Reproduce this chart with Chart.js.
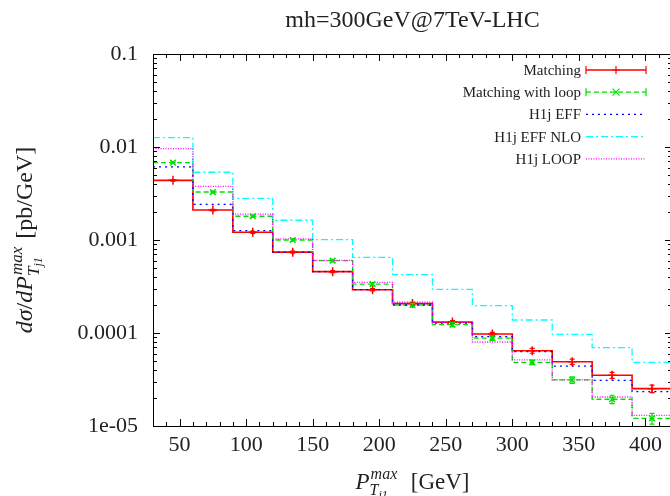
<!DOCTYPE html>
<html>
<head>
<meta charset="utf-8">
<script src="https://cdn.jsdelivr.net/npm/chart.js@4/dist/chart.umd.min.js"></script>
<style>
  body { margin: 0; overflow: hidden; background: #fff; }
  canvas { display: block; }
</style>
</head>
<body>
<canvas id="ptChart" width="680" height="496"></canvas>
<script>
// Bins em P_T^max do jato mais duro (GeV)
var binEdges = [30, 60, 90, 120, 150, 180, 210, 240, 270, 300, 330, 360, 390, 420]
var binCenters = [45, 75, 105, 135, 165, 195, 225, 255, 285, 315, 345, 375, 405]

// dsigma/dP_T^max [pb/GeV]
var matching = [0.00438, 0.0021, 0.00121, 0.00074, 0.000457, 0.000292, 0.000207, 0.000131, 0.0000975, 0.0000645, 0.0000491, 0.0000351, 0.0000252]
var matchingErr = [0.00008, 0.00004, 0.00003, 0.00002, 0.000012, 0.000009, 0.000007, 0.000005, 0.000004, 0.0000039, 0.0000032, 0.0000026, 0.0000023]
var matchingLoop = [0.00678, 0.00328, 0.0018, 0.001, 0.0006, 0.000336, 0.0002, 0.000123, 0.0000883, 0.0000484, 0.0000313, 0.0000194, 0.0000121]
var matchingLoopErr = [0.0001, 0.00006, 0.00004, 0.00003, 0.00002, 0.000012, 0.000008, 0.000006, 0.000005, 0.0000028, 0.0000025, 0.000002, 0.0000016]
var h1jEff = [0.0061, 0.00242, 0.00126, 0.00074, 0.000457, 0.000292, 0.0002, 0.000128, 0.0000912, 0.0000631, 0.0000441, 0.000031, 0.0000234]
var h1jEffNlo = [0.0126, 0.00535, 0.0028, 0.00163, 0.00101, 0.00065, 0.000424, 0.000295, 0.000197, 0.000138, 0.0000968, 0.0000695, 0.0000484]
var h1jLoop = [0.0096, 0.00378, 0.0019, 0.00103, 0.000605, 0.00035, 0.000214, 0.00013, 0.00008, 0.0000513, 0.0000313, 0.0000205, 0.000013]

var seriesNames = ['Matching', 'Matching with loop', 'H1j EFF', 'H1j EFF NLO', 'H1j LOOP']
var xTicks = [50, 100, 150, 200, 250, 300, 350, 400]
var yTicks = [0.00001, 0.0001, 0.001, 0.01, 0.1]
var yTickLabels = ['1e-05', '0.0001', '0.001', '0.01', '0.1']
var titleText = 'mh=300GeV@7TeV-LHC'

var FONT = '"Liberation Serif", "DejaVu Serif", serif'
var styles = [
  { color: '#ff0000', dash: [] },
  { color: '#00e000', dash: [5, 3] },
  { color: '#0000ff', dash: [2, 4] },
  { color: '#00ffff', dash: [7, 3, 2, 3] },
  { color: '#ff00ff', dash: [1, 1.5] }
]

// histograma em degraus: um ponto por borda de bin
function steps(vals){
  return binEdges.map((x, i) => ({ x: x, y: vals[Math.min(i, vals.length - 1)] }))
}
function centers(vals, errs){
  return binCenters.map((x, i) => ({ x: x, y: vals[i], err: errs[i] }))
}

function stepSet(i, vals){
  return {
    label: seriesNames[i],
    data: steps(vals),
    stepped: 'before',
    borderColor: styles[i].color,
    borderDash: styles[i].dash,
    borderWidth: i == 0 ? 1.6 : 1.3,
    pointRadius: 0,
    fill: false,
    order: 10 - i
  }
}

function drawMarker(ctx, kind, x, y, r){
  ctx.beginPath()
  if (kind == 'plus'){
    ctx.moveTo(x - r, y); ctx.lineTo(x + r, y)
    ctx.moveTo(x, y - r); ctx.lineTo(x, y + r)
  } else {
    ctx.moveTo(x - r, y - r); ctx.lineTo(x + r, y + r)
    ctx.moveTo(x - r, y + r); ctx.lineTo(x + r, y - r)
  }
  ctx.stroke()
}

// texto com expoente/índice empilhados (P^max_Tj1)
function mathText(ctx, runs, size, x0, y0, draw){
  var x = x0
  runs.forEach((r) => {
    if (r.t !== undefined){
      ctx.font = (r.i ? 'italic ' : '') + size + 'px ' + FONT
      if (draw) ctx.fillText(r.t, x, y0)
      x += ctx.measureText(r.t).width
    } else {
      ctx.font = 'italic ' + Math.round(size * 0.7) + 'px ' + FONT
      var wSup = ctx.measureText(r.sup).width
      var wSub = ctx.measureText(r.sub).width
      if (draw){
        ctx.fillText(r.sup, x + 1, y0 - size * 0.42)
        ctx.fillText(r.sub, x, y0 + size * 0.28)
      }
      ctx.font = 'italic ' + Math.round(size * 0.5) + 'px ' + FONT
      var wSS = ctx.measureText(r.subsub).width
      if (draw) ctx.fillText(r.subsub, x + wSub, y0 + size * 0.42)
      x += Math.max(wSup + 1, wSub + wSS) + 2
    }
  })
  return x - x0
}

var yTitleRuns = [
  { t: 'd\u03c3', i: true }, { t: '/' }, { t: 'dP', i: true },
  { sup: 'max', sub: 'T', subsub: 'j1' }, { t: ' [pb/GeV]' }
]
var xTitleRuns = [
  { t: 'P', i: true }, { sup: 'max', sub: 'T', subsub: 'j1' }, { t: '  [GeV]' }
]

var decorations = {
  id: 'decorations',
  afterDatasetsDraw(chart){
    var ctx = chart.ctx
    var xs = chart.scales.x, ys = chart.scales.y
    ctx.save()
    // barras de erro
    chart.data.datasets.forEach((ds) => {
      if (!ds.errorBars) return
      ctx.strokeStyle = ds.borderColor
      ctx.lineWidth = 1.2
      ctx.setLineDash([])
      ds.data.forEach((p) => {
        var px = xs.getPixelForValue(p.x)
        var y1 = ys.getPixelForValue(p.y - p.err)
        var y2 = ys.getPixelForValue(p.y + p.err)
        ctx.beginPath()
        ctx.moveTo(px, y1); ctx.lineTo(px, y2)
        ctx.moveTo(px - 2.5, y1); ctx.lineTo(px + 2.5, y1)
        ctx.moveTo(px - 2.5, y2); ctx.lineTo(px + 2.5, y2)
        ctx.stroke()
      })
    })
    ctx.restore()
  },
  afterDraw(chart){
    var ctx = chart.ctx
    var a = chart.chartArea
    var xs = chart.scales.x, ys = chart.scales.y
    ctx.save()
    ctx.setLineDash([])
    ctx.strokeStyle = '#000'
    ctx.lineWidth = 1
    ctx.strokeRect(a.left + 0.5, a.top + 0.5, a.right - a.left, a.bottom - a.top)

    // marcas nos quatro lados, para dentro
    ctx.beginPath()
    for (var v = 30; v <= 420; v += 10){
      var len = (v % 50 == 0) ? 7 : 4
      var px = Math.round(xs.getPixelForValue(v)) + 0.5
      ctx.moveTo(px, a.bottom); ctx.lineTo(px, a.bottom - len)
      ctx.moveTo(px, a.top); ctx.lineTo(px, a.top + len)
    }
    for (var e = -5; e < -1; e++){
      for (var m = 1; m <= 10; m++){
        var val = m * Math.pow(10, e)
        var l2 = (m == 1 || m == 10) ? 7 : 4
        var py = Math.round(ys.getPixelForValue(val)) + 0.5
        ctx.moveTo(a.left, py); ctx.lineTo(a.left + l2, py)
        ctx.moveTo(a.right, py); ctx.lineTo(a.right - l2, py)
      }
    }
    ctx.stroke()

    // título
    ctx.fillStyle = '#222'
    ctx.font = '24px ' + FONT
    ctx.textAlign = 'center'
    ctx.textBaseline = 'alphabetic'
    ctx.fillText(titleText, (a.left + a.right) / 2, 27)

    // títulos dos eixos
    ctx.textAlign = 'left'
    ctx.textBaseline = 'alphabetic'
    var w = mathText(ctx, xTitleRuns, 23, 0, 0, false)
    mathText(ctx, xTitleRuns, 23, (a.left + a.right) / 2 - w / 2, 489, true)

    ctx.save()
    ctx.translate(32, (a.top + a.bottom) / 2)
    ctx.rotate(-Math.PI / 2)
    w = mathText(ctx, yTitleRuns, 24, 0, 0, false)
    mathText(ctx, yTitleRuns, 24, -w / 2, 0, true)
    ctx.restore()

    // legenda
    ctx.font = '15px ' + FONT
    ctx.textAlign = 'right'
    ctx.textBaseline = 'middle'
    var x0 = 586, x1 = 646
    seriesNames.forEach((name, i) => {
      var y = 70 + i * 22.2
      ctx.fillStyle = '#222'
      ctx.fillText(name, 581, y + 1)
      ctx.strokeStyle = styles[i].color
      ctx.lineWidth = i == 0 ? 1.6 : 1.3
      ctx.setLineDash(styles[i].dash)
      ctx.beginPath()
      ctx.moveTo(x0, y); ctx.lineTo(x1, y)
      ctx.stroke()
      if (i < 2){
        ctx.setLineDash([])
        ctx.lineWidth = 1.2
        ctx.beginPath()
        ctx.moveTo(x0, y - 4); ctx.lineTo(x0, y + 4)
        ctx.moveTo(x1, y - 4); ctx.lineTo(x1, y + 4)
        ctx.stroke()
        drawMarker(ctx, i == 0 ? 'plus' : 'cross', (x0 + x1) / 2, y, i == 0 ? 4 : 3.5)
      }
    })
    ctx.restore()
  }
}

var ptChart = new Chart(document.getElementById('ptChart'), {
  type: 'line',
  data: {
    datasets: [
      stepSet(0, matching),
      stepSet(1, matchingLoop),
      stepSet(2, h1jEff),
      stepSet(3, h1jEffNlo),
      stepSet(4, h1jLoop),
      {
        label: 'Matching pts',
        data: centers(matching, matchingErr),
        showLine: false,
        pointStyle: 'cross',
        pointRadius: 4.5,
        pointBorderWidth: 1.5,
        borderColor: styles[0].color,
        backgroundColor: styles[0].color,
        errorBars: true,
        order: 1
      },
      {
        label: 'Matching with loop pts',
        data: centers(matchingLoop, matchingLoopErr),
        showLine: false,
        pointStyle: 'crossRot',
        pointRadius: 4,
        pointBorderWidth: 1.5,
        borderColor: styles[1].color,
        backgroundColor: styles[1].color,
        errorBars: true,
        order: 0
      }
    ]
  },
  options: {
    responsive: false,
    animation: false,
    devicePixelRatio: 1,
    events: [],
    layout: {
      padding: { top: 54, right: 8, left: 0, bottom: 0 }
    },
    plugins: {
      legend: { display: false },
      title: { display: false },
      tooltip: { enabled: false }
    },
    scales: {
      x: {
        type: 'linear',
        min: 30,
        max: 420,
        grid: { display: false, drawTicks: false },
        border: { display: false },
        afterBuildTicks: (scale) => { scale.ticks = xTicks.map((v) => ({ value: v })) },
        afterFit: (scale) => { scale.height = 70 },
        ticks: {
          color: '#222',
          font: { family: FONT, size: 22 },
          padding: 6,
          maxRotation: 0,
          autoSkip: false,
          callback: (v) => String(v)
        }
      },
      y: {
        type: 'logarithmic',
        min: 0.00001,
        max: 0.1,
        grid: { display: false, drawTicks: false },
        border: { display: false },
        afterBuildTicks: (scale) => { scale.ticks = yTicks.map((v) => ({ value: v })) },
        afterFit: (scale) => { scale.width = 153 },
        ticks: {
          color: '#222',
          font: { family: FONT, size: 22 },
          padding: 15,
          autoSkip: false,
          callback: (v) => {
            var k = yTicks.findIndex((t) => Math.abs(Math.log10(t) - Math.log10(v)) < 1e-6)
            return k >= 0 ? yTickLabels[k] : ''
          }
        }
      }
    }
  },
  plugins: [decorations]
})
</script>
</body>
</html>
